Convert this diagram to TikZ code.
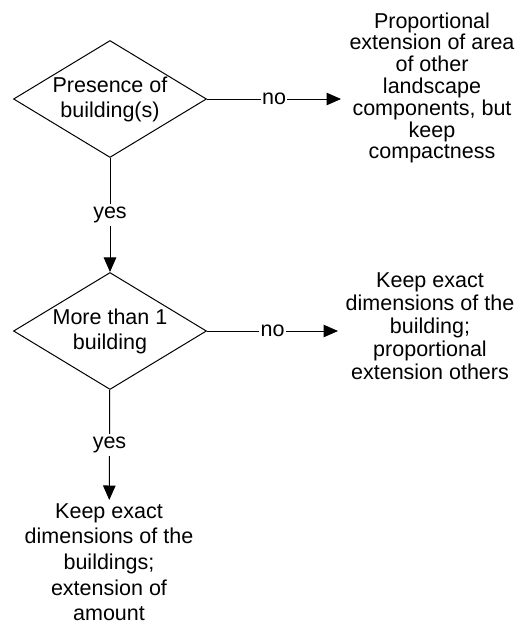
\documentclass[tikz,border=0pt]{standalone}
\usepackage{fontspec}
\setmainfont{Liberation Sans}
\usetikzlibrary{shapes.geometric,arrows.meta}
\begin{document}
\begin{tikzpicture}[x=1pt, y=-1pt,
	decision/.style={diamond, draw, line width=1pt, minimum width=193pt, minimum height=117pt, inner sep=0pt, shape aspect=1.65, align=center, font=\fontsize{21.5}{25}\selectfont},
	outcome/.style={align=center, font=\fontsize{21.5}{23}\selectfont},
	arr/.style={-{Triangle[length=14.5pt, width=12.5pt]}, line width=1pt},
	lbl/.style={fill=white, inner xsep=1.5pt, inner ysep=3pt, font=\fontsize{21.5}{23}\selectfont}]
		\useasboundingbox (0,0) rectangle (519,626);
		
		\node[decision] (D1) at (110,99) {Presence of\\building(s)};
		\node[decision] (D2) at (110,331) {More than 1\\building};
		
		\node[outcome, font=\fontsize{21.5}{21.8}\selectfont] (O1) at (432,88) {Proportional\\extension of area\\of other\\landscape\\components, but\\keep\\compactness};
		\node[outcome] (O2) at (430,326) {Keep exact\\dimensions of the\\building;\\proportional\\extension others};
		\node[outcome, font=\fontsize{21.5}{25.6}\selectfont, anchor=north] (O3) at (109,500) {Keep exact\\dimensions of the\\buildings;\\extension of\\amount};
		
		\coordinate (E1) at (341,99);
		\coordinate (E2) at (338,331);
		
		\draw[arr] (D1) to node[lbl] {no} (E1);
		\draw[arr] (D1) to node[lbl] {yes} (D2);
		\draw[arr] (D2) to node[lbl] {no} (E2);
		\draw[arr] (D2) to node[lbl] {yes} (O3);
	\end{tikzpicture}
\end{document}
